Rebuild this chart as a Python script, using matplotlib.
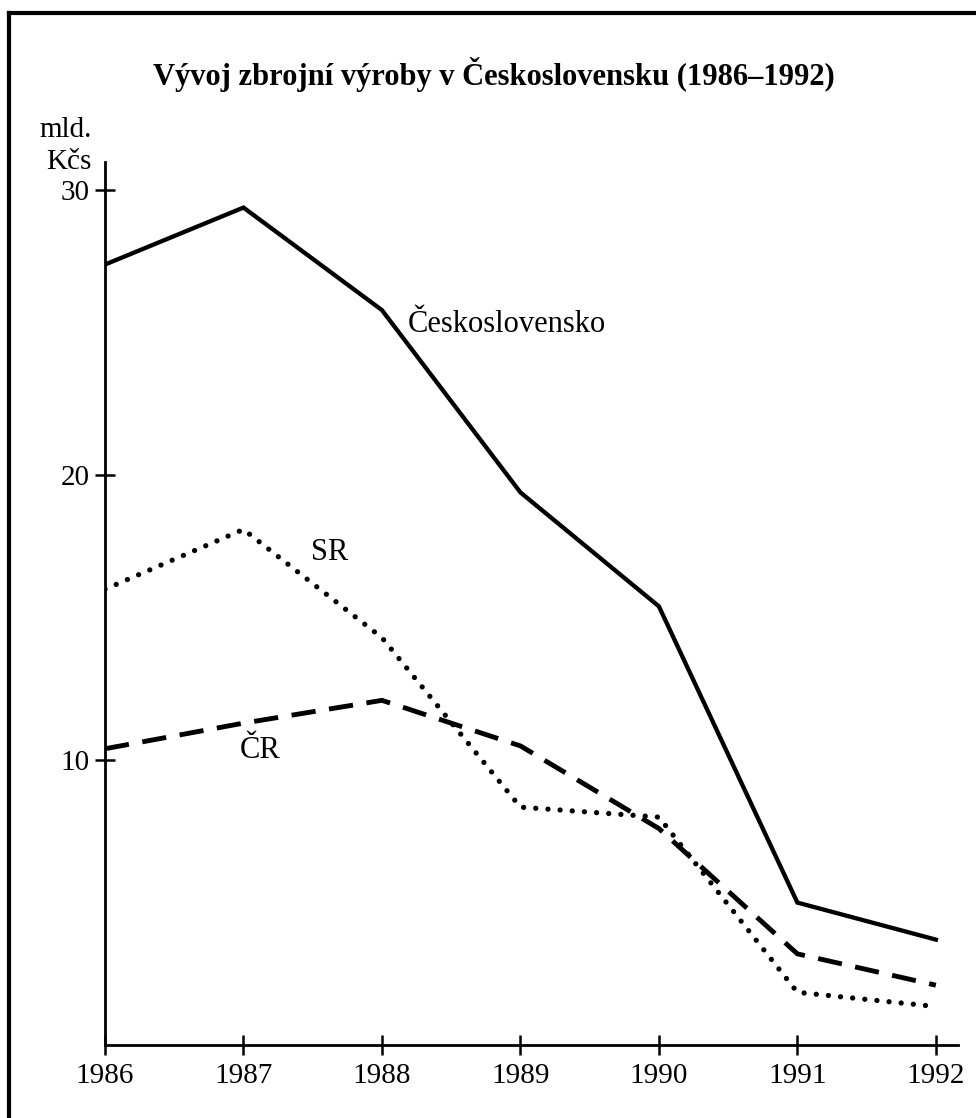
import matplotlib.pyplot as plt
from matplotlib.lines import Line2D

plt.rcParams['font.family'] = ['Liberation Serif', 'DejaVu Serif']

years = [1986, 1987, 1988, 1989, 1990, 1991, 1992]
cs = [27.4, 29.4, 25.8, 19.4, 15.4, 5.0, 3.7]
sr = [16.0, 18.1, 14.3, 8.35, 8.0, 1.85, 1.35]
cr = [10.4, 11.3, 12.1, 10.5, 7.6, 3.2, 2.1]
yticks = [10, 20, 30]

W, H = 976, 1118
fig = plt.figure(figsize=(W / 100, H / 100), dpi=100)

# osa v pixelech: vlevo 105, vpravo 958, dole 1045, nahore 162
ax = fig.add_axes([105 / W, (H - 1045) / H, (958 - 105) / W, (1045 - 162) / H])

ax.plot(years, cs, color='black', lw=3.1, solid_joinstyle='miter')
ax.plot(years, sr, color='black', lw=3.8, linestyle=(0, (0.01, 2.3)),
        dash_capstyle='round')
ax.plot(years, cr, color='black', lw=3.5, linestyle=(0, (5.0, 2.8)),
        dash_capstyle='butt')

ax.set_xlim(1986, 1992.16)
ax.set_ylim(0, 31)
ax.set_xticks(years)
ax.set_yticks(yticks)
ax.tick_params(direction='inout', length=14, width=1.8, labelsize=21,
               pad=4, color='black')
ax.tick_params(axis='x', pad=6)
for s in ['top', 'right']:
    ax.spines[s].set_visible(False)
for s in ['left', 'bottom']:
    ax.spines[s].set_linewidth(2.0)

ax.text(1988.9, 25.3, 'Československo', fontsize=22, ha='center', va='center')
ax.text(1987.62, 17.3, 'SR', fontsize=22, ha='center', va='center')
ax.text(1987.12, 10.35, 'ČR', fontsize=22, ha='center', va='center')

fig.text(494 / W, 1 - 75 / H, 'Vývoj zbrojní výroby v Československu (1986–1992)',
         fontsize=22, fontweight='bold', ha='center', va='center')
fig.text(92 / W, 1 - 130 / H, 'mld.', fontsize=21, ha='right', va='center')
fig.text(92 / W, 1 - 162 / H, 'Kčs', fontsize=21, ha='right', va='center')

# ramecek skenu (pravy a spodni okraj oriznuty)
fig.add_artist(Line2D([9 / W, 9 / W], [0, 1 - 13 / H], transform=fig.transFigure,
                      color='black', lw=3))
fig.add_artist(Line2D([9 / W, 1], [1 - 13 / H, 1 - 13 / H], transform=fig.transFigure,
                      color='black', lw=3))

fig.savefig('out.png', dpi=100)
